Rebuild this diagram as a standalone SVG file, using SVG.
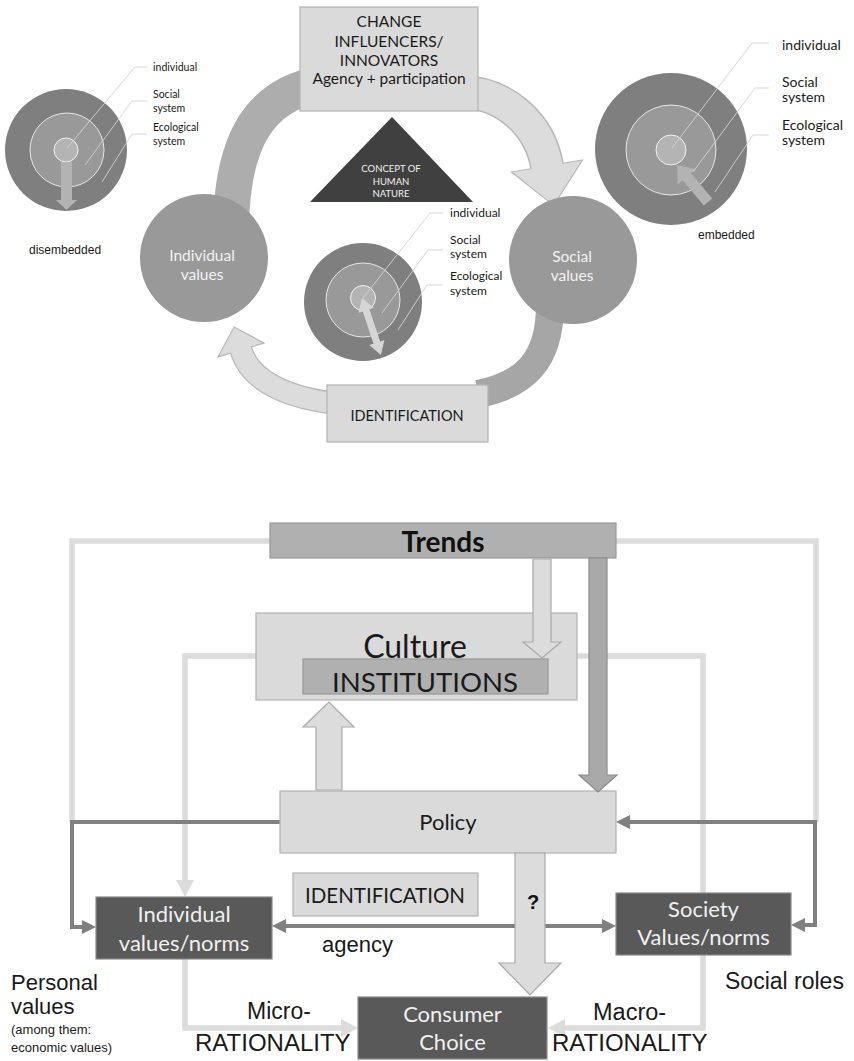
<svg xmlns="http://www.w3.org/2000/svg" width="854" height="1061" viewBox="0 0 854 1061">
  <defs>
    <style>
      .cal { font-family: Lato, "Open Sans", "Liberation Sans", sans-serif; }
      .ari { font-family: "Liberation Sans", Arial, sans-serif; }
      .lbl { fill: #1a1a1a; }
      .lead { fill: none; stroke: #d2d2d2; stroke-width: 0.9; }
      .outer { fill: #7f7f7f; }
      .mid { fill: #999999; stroke: #e6e6e6; stroke-width: 1; }
      .inner { fill: #b4b4b4; stroke: #f2f2f2; stroke-width: 1; }
      .light-box { fill: #dadada; stroke: #b3b3b3; stroke-width: 1.2; }
      .mid-box { fill: #b0b0b0; stroke: #999999; stroke-width: 1.2; }
      .dark-box { fill: #595959; stroke: #8a8a8a; stroke-width: 1.2; }
      .dark-text { fill: #f0f0f0; }
      .wire-light { fill: none; stroke: #dcdcdc; stroke-width: 5.5; }
      .wire-dark { fill: none; stroke: #808080; stroke-width: 4; }
      .blk-light { fill: #dcdcdc; stroke: #a9a9a9; stroke-width: 1.2; }
      .blk-mid { fill: #a9a9a9; stroke: #8c8c8c; stroke-width: 1.2; }
    </style>
    <marker id="headLight" markerUnits="userSpaceOnUse" markerWidth="18" markerHeight="18" refX="5" refY="9" orient="auto">
      <path d="M0,0 L17,9 L0,18 z" fill="#dcdcdc"/>
    </marker>
    <marker id="headDark" markerUnits="userSpaceOnUse" markerWidth="15" markerHeight="15" refX="4" refY="7" orient="auto-start-reverse">
      <path d="M0,0 L14,7 L0,14 z" fill="#808080"/>
    </marker>
  </defs>

  <rect width="854" height="1061" fill="#ffffff"/>

  <!-- ===== Upper cycle: curved band arrows ===== -->
  <g id="cycle-connectors">
    <!-- Individual values up to change influencers -->
    <path d="M231,232 C231,140 260,95 320,84" fill="none" stroke="#adadad" stroke-width="36"/>
    <!-- change influencers to social values -->
    <path d="M460,92 C505,92 540,125 547,166" fill="none" stroke="#b8b8b8" stroke-width="34"/>
    <polygon points="582.5,160 553.7,205.4 511.5,172" fill="#dcdcdc" stroke="#b8b8b8" stroke-width="1.2"/>
    <path d="M460,92 C505,92 540,125 547,166" fill="none" stroke="#dcdcdc" stroke-width="31" stroke-linecap="square"/>
    <!-- social values down to identification -->
    <path d="M550,305 C550,360 525,385 478,394" fill="none" stroke="#a6a6a6" stroke-width="28"/>
    <!-- identification back to individual values -->
    <path d="M340,404 C285,398 250,380 241,350" fill="none" stroke="#b8b8b8" stroke-width="23"/>
    <polygon points="264,343.1 234.1,327 218,356.9" fill="#dcdcdc" stroke="#b8b8b8" stroke-width="1.2"/>
    <path d="M340,404 C285,398 250,380 241,350" fill="none" stroke="#dcdcdc" stroke-width="20.5" stroke-linecap="square"/>
  </g>

  <!-- ===== Disembedded rings (top left) ===== -->
  <g id="rings-disembedded">
    <circle class="outer" cx="66" cy="150" r="61"/>
    <circle class="mid" cx="67" cy="150" r="37"/>
    <circle class="inner" cx="66" cy="150" r="12"/>
    <polygon points="61,162 72,162 72,200 77,200 66.5,210 56,200 61,200" fill="#b3b3b3"/>
    <path class="lead" d="M67,148 L135,67 H147"/>
    <path class="lead" d="M85,165 L132,101 H147"/>
    <path class="lead" d="M102,182 L132,134 H147"/>
    <text class="cal lbl" font-size="10.5" x="153" y="71">individual</text>
    <text class="cal lbl" font-size="10.5" x="153" y="98">Social</text>
    <text class="cal lbl" font-size="10.5" x="153" y="112">system</text>
    <text class="cal lbl" font-size="10.5" x="153" y="131">Ecological</text>
    <text class="cal lbl" font-size="10.5" x="153" y="145">system</text>
    <text class="ari lbl" font-size="12" x="29" y="254">disembedded</text>
  </g>

  <!-- ===== Embedded rings (top right) ===== -->
  <g id="rings-embedded">
    <circle class="outer" cx="671" cy="149" r="76"/>
    <circle class="mid" cx="671" cy="150" r="45"/>
    <circle class="inner" cx="671" cy="150" r="15"/>
    <polygon points="0,-5.5 33,-5.5 33,-12 48,0 33,12 33,5.5 0,5.5" fill="#b3b3b3" transform="translate(708,202) rotate(-130)"/>
    <path class="lead" d="M672,148 L752,43 H769"/>
    <path class="lead" d="M693,172 L755,88 H769"/>
    <path class="lead" d="M715,192 L753,135 H769"/>
    <text class="cal lbl" font-size="14" x="782" y="50">individual</text>
    <text class="cal lbl" font-size="14" x="782" y="87">Social</text>
    <text class="cal lbl" font-size="14" x="782" y="102">system</text>
    <text class="cal lbl" font-size="14" x="782" y="130">Ecological</text>
    <text class="cal lbl" font-size="14" x="782" y="145">system</text>
    <text class="ari lbl" font-size="12" x="698" y="239">embedded</text>
  </g>

  <!-- ===== Change influencers ===== -->
  <g id="change-influencers">
    <rect class="light-box" x="300" y="7" width="178" height="104"/>
    <text class="cal lbl" font-size="15.5" x="389" y="27" text-anchor="middle">CHANGE</text>
    <text class="cal lbl" font-size="15.5" x="389" y="47" text-anchor="middle">INFLUENCERS/</text>
    <text class="cal lbl" font-size="15.5" x="389" y="66" text-anchor="middle">INNOVATORS</text>
    <text class="cal lbl" font-size="15.5" x="389" y="84" text-anchor="middle">Agency + participation</text>
  </g>

  <!-- ===== Concept of human nature ===== -->
  <g id="human-nature">
    <polygon points="392,117 473,202 310,202" fill="#404040"/>
    <text class="cal" fill="#f2f2f2" font-size="9.5" x="391" y="172" text-anchor="middle">CONCEPT OF</text>
    <text class="cal" fill="#f2f2f2" font-size="9.5" x="391" y="185" text-anchor="middle">HUMAN</text>
    <text class="cal" fill="#f2f2f2" font-size="9.5" x="391" y="197" text-anchor="middle">NATURE</text>
  </g>

  <!-- ===== Individual values ===== -->
  <g id="individual-values">
    <circle cx="204" cy="258" r="64" fill="#999999"/>
    <text class="cal" fill="#f2f2f2" font-size="15.5" x="202" y="261" text-anchor="middle">Individual</text>
    <text class="cal" fill="#f2f2f2" font-size="15.5" x="202" y="280" text-anchor="middle">values</text>
  </g>

  <!-- ===== Social values ===== -->
  <g id="social-values">
    <circle cx="573" cy="260" r="64" fill="#999999"/>
    <text class="cal" fill="#f2f2f2" font-size="15.5" x="572" y="262" text-anchor="middle">Social</text>
    <text class="cal" fill="#f2f2f2" font-size="15.5" x="572" y="281" text-anchor="middle">values</text>
  </g>

  <!-- ===== Two-way rings (centre) ===== -->
  <g id="rings-two-way">
    <circle class="outer" cx="363" cy="302" r="59"/>
    <circle class="mid" cx="363" cy="300" r="37"/>
    <circle class="inner" cx="363" cy="298" r="12.5"/>
    <polygon points="0,0 13,-8 13,-3.5 47,-3.5 47,-8 60,0 47,8 47,3.5 13,3.5 13,8" fill="#d6d6d6" transform="translate(362,298) rotate(71.6)"/>
    <path class="lead" d="M363,298 L430,213 H443"/>
    <path class="lead" d="M382,313 L428,250 H443"/>
    <path class="lead" d="M398,330 L427,285 H443"/>
    <text class="cal lbl" font-size="12" x="450" y="217">individual</text>
    <text class="cal lbl" font-size="12" x="450" y="244">Social</text>
    <text class="cal lbl" font-size="12" x="450" y="258">system</text>
    <text class="cal lbl" font-size="12" x="450" y="280">Ecological</text>
    <text class="cal lbl" font-size="12" x="450" y="295">system</text>
  </g>

  <!-- ===== Identification (cycle) ===== -->
  <g id="identification-cycle">
    <rect class="light-box" x="327" y="385" width="161" height="57"/>
    <text class="cal lbl" font-size="14.5" x="407" y="421" text-anchor="middle">IDENTIFICATION</text>
  </g>

  <!-- ===== Lower chart: wiring ===== -->
  <g id="connectors">
    <path class="wire-light" d="M270,541 H72 V822"/>
    <path class="wire-light" d="M616,541 H816 V822"/>
    <path class="wire-light" d="M256,656 H185 V885" marker-end="url(#headLight)"/>
    <path class="wire-light" d="M185,959 V1028 H346" marker-end="url(#headLight)"/>
    <path class="wire-light" d="M577,656 H703 V1028 H560" marker-end="url(#headLight)"/>
    <path class="wire-dark" d="M280,822 H72 V927 H86" marker-end="url(#headDark)"/>
    <path class="wire-dark" d="M801,925 H815 V822 H626" marker-start="url(#headDark)" marker-end="url(#headDark)"/>
    <path class="wire-dark" d="M282,926 H606" marker-start="url(#headDark)" marker-end="url(#headDark)"/>
  </g>

  <g id="trends">
    <rect class="mid-box" x="270" y="523" width="346" height="35"/>
    <text class="cal" font-weight="bold" fill="#111" font-size="28" x="443" y="552" text-anchor="middle">Trends</text>
  </g>

  <g id="culture">
    <rect class="light-box" x="256" y="613" width="321" height="87"/>
    <text class="cal lbl" font-size="32" x="415" y="658" text-anchor="middle">Culture</text>
    <rect class="mid-box" x="303" y="659" width="245" height="35"/>
    <text class="cal lbl" font-size="27.5" x="425" y="692" text-anchor="middle">INSTITUTIONS</text>
  </g>

  <g id="policy">
    <rect class="light-box" x="280" y="791" width="336" height="62"/>
    <text class="cal lbl" font-size="22" x="448" y="830" text-anchor="middle">Policy</text>
  </g>

  <g id="identification">
    <rect class="light-box" x="293" y="873" width="185" height="43"/>
    <text class="cal lbl" font-size="20.5" x="385" y="903" text-anchor="middle">IDENTIFICATION</text>
  </g>

  <g id="individual-norms">
    <rect class="dark-box" x="96" y="897" width="176" height="62"/>
    <text class="cal dark-text" font-size="22" x="184" y="922" text-anchor="middle">Individual</text>
    <text class="cal dark-text" font-size="22" x="184" y="951" text-anchor="middle">values/norms</text>
  </g>

  <g id="society-norms">
    <rect class="dark-box" x="616" y="893" width="175" height="62"/>
    <text class="cal dark-text" font-size="22" x="703.5" y="917" text-anchor="middle">Society</text>
    <text class="cal dark-text" font-size="22" x="703.5" y="945" text-anchor="middle">Values/norms</text>
  </g>

  <g id="consumer-choice">
    <rect class="dark-box" x="358" y="997" width="189" height="62"/>
    <text class="cal dark-text" font-size="22" x="452.5" y="1022" text-anchor="middle">Consumer</text>
    <text class="cal dark-text" font-size="22" x="452.5" y="1050" text-anchor="middle">Choice</text>
  </g>

  <!-- block arrows drawn over the boxes they touch -->
  <g id="block-arrows">
    <polygon class="blk-light" points="533,559 551,559 551,642 561,642 542,658 523,642 533,642"/>
    <polygon class="blk-mid" points="589,558 607,558 607,775 617,775 598,792 579,775 589,775"/>
    <polygon class="blk-light" points="316,790 342,790 342,727 354,727 329,702 303,727 316,727"/>
    <polygon class="blk-light" points="515,853 545,853 545,963 561,963 530,995 499,963 515,963"/>
    <text class="ari" font-weight="bold" fill="#111" font-size="20" x="533" y="909" text-anchor="middle">?</text>
  </g>

  <!-- free labels -->
  <g id="labels">
    <text class="ari lbl" font-size="22" x="322" y="952">agency</text>
    <text class="ari lbl" font-size="22" x="11" y="990">Personal</text>
    <text class="ari lbl" font-size="22" x="11" y="1014">values</text>
    <text class="ari lbl" font-size="13" x="11" y="1034">(among them:</text>
    <text class="ari lbl" font-size="13" x="11" y="1052">economic values)</text>
    <text class="ari lbl" font-size="23" x="247" y="1019">Micro-</text>
    <text class="ari lbl" font-size="24" x="195" y="1051">RATIONALITY</text>
    <text class="ari lbl" font-size="23.5" x="593" y="1020">Macro-</text>
    <text class="ari lbl" font-size="24" x="552" y="1051">RATIONALITY</text>
    <text class="ari lbl" font-size="23" x="725" y="989">Social roles</text>
  </g>
</svg>
